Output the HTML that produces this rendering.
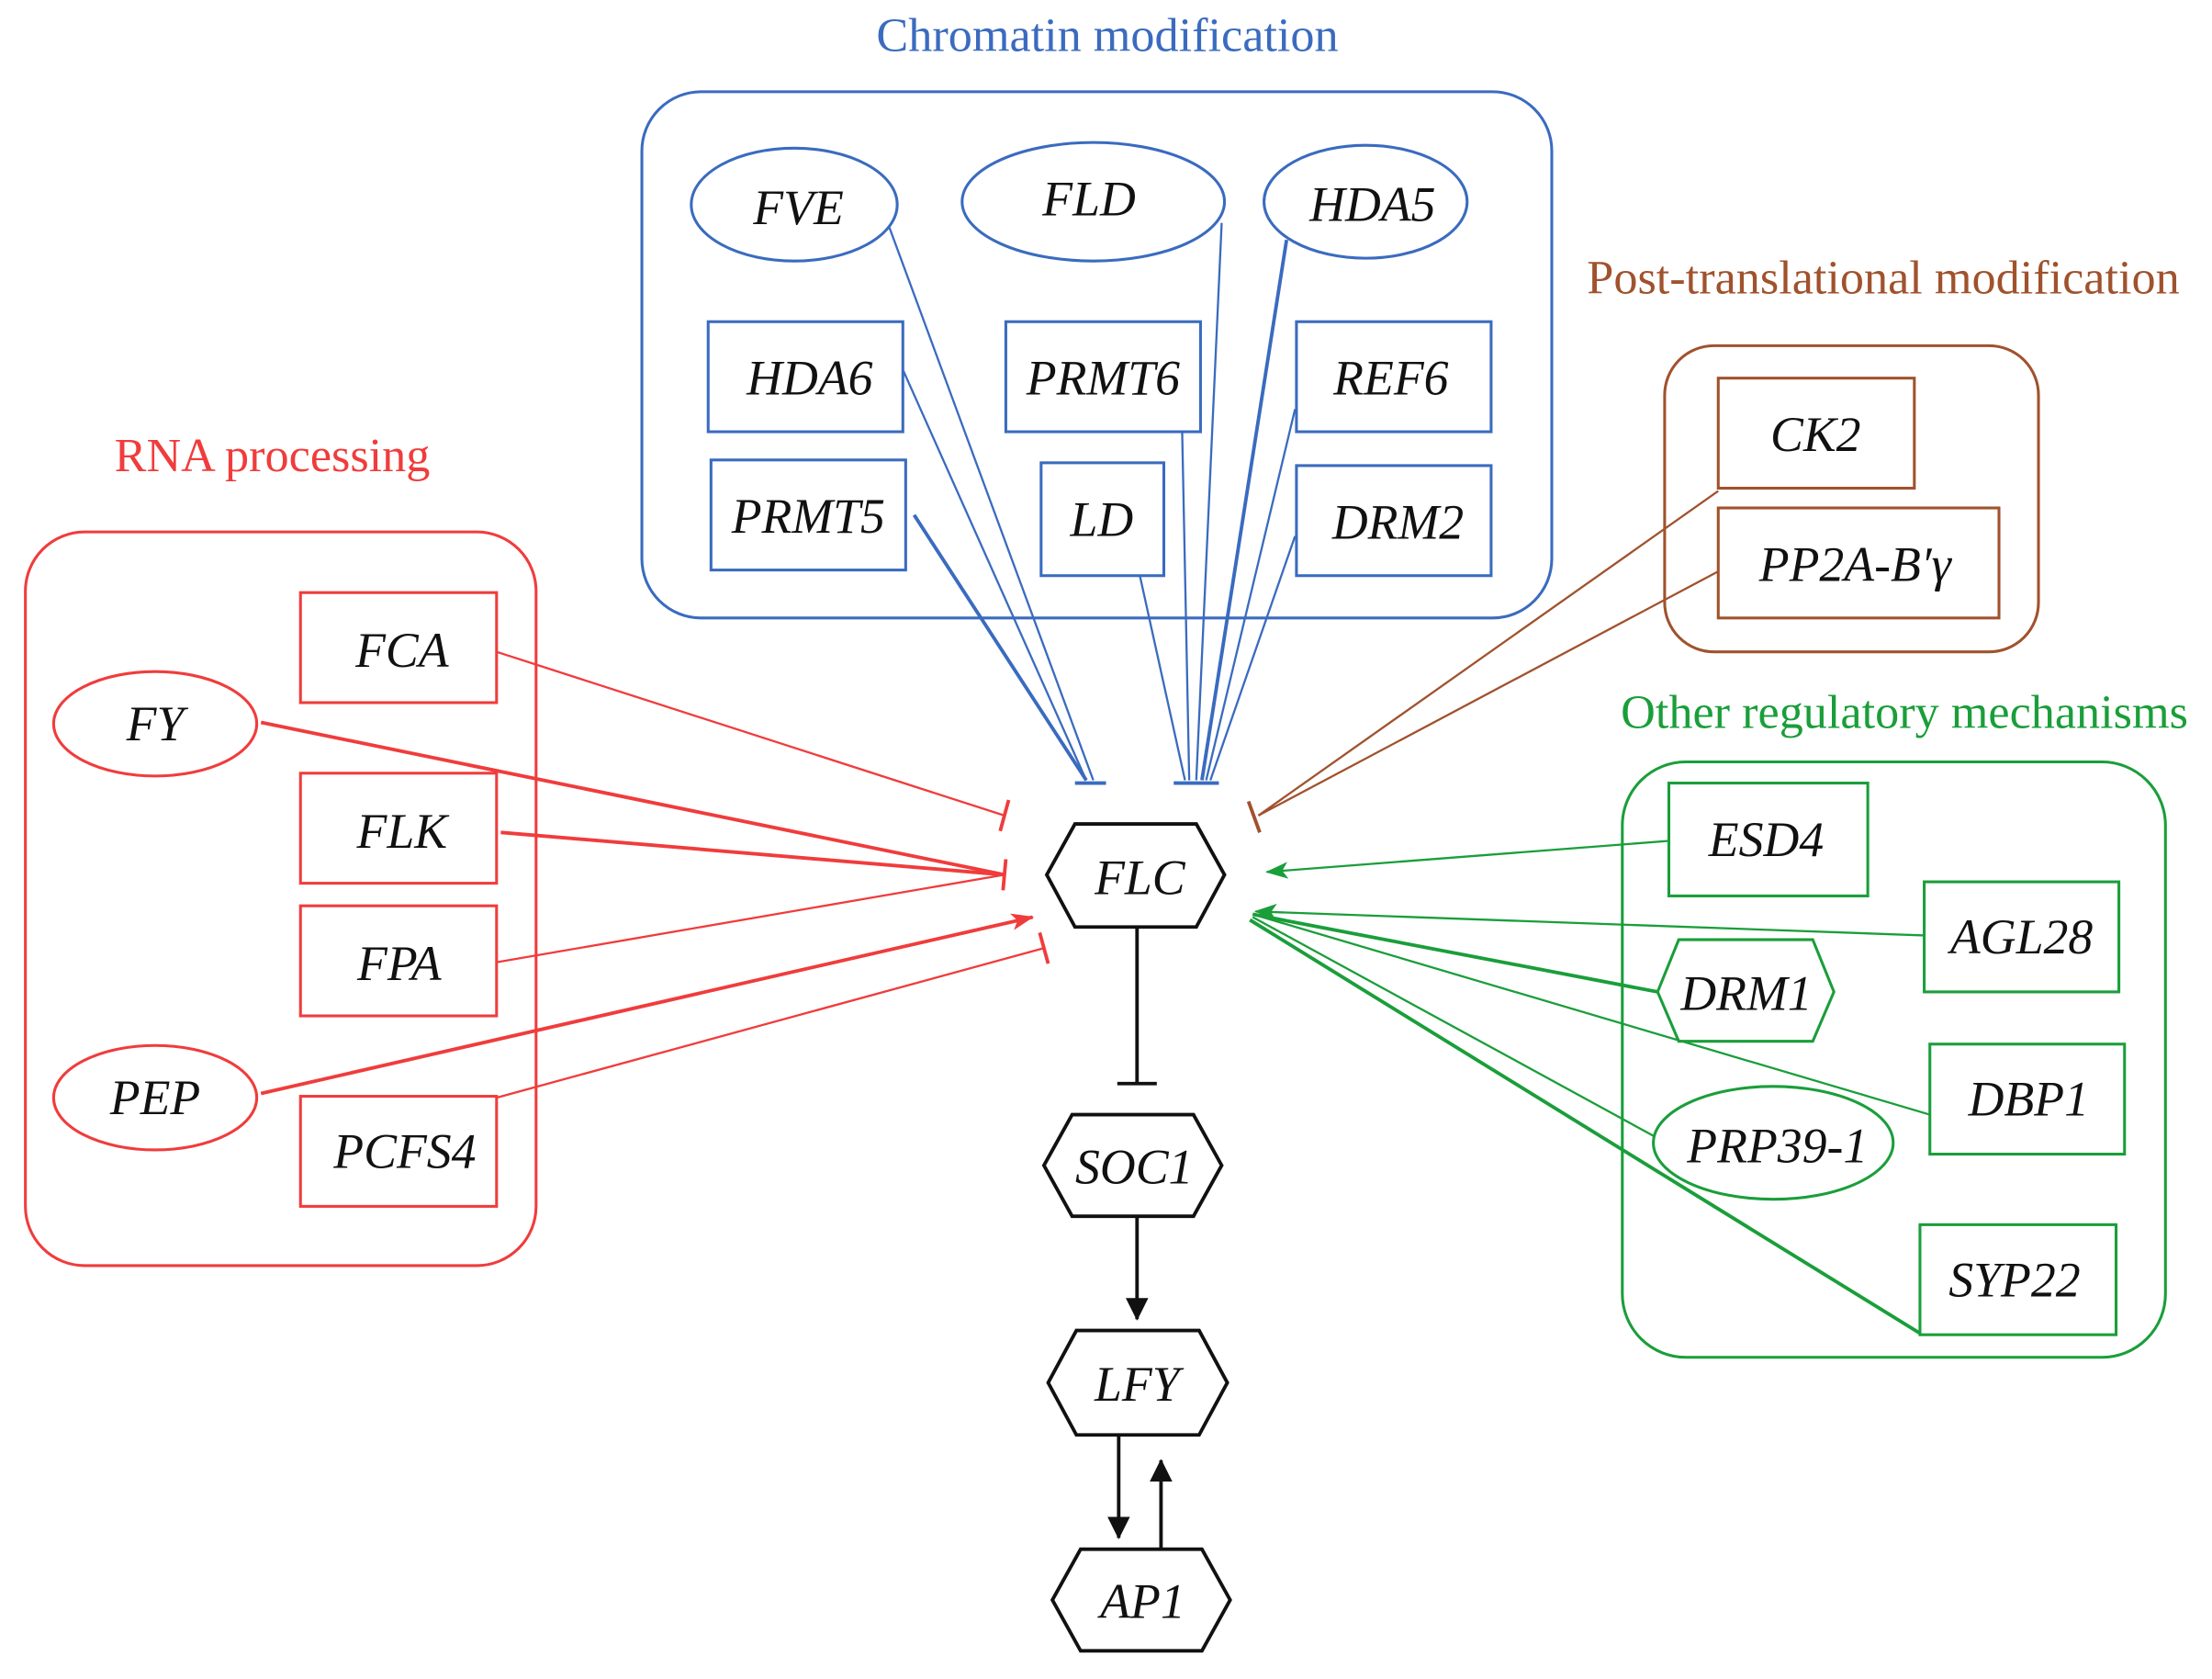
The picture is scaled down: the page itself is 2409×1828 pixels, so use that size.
<!DOCTYPE html>
<html><head><meta charset="utf-8"><style>
html,body{margin:0;padding:0;background:#fff;}
svg{display:block;}
text{font-family:"Liberation Serif",serif;}
.n{font-style:italic;font-size:35px;text-anchor:middle;dominant-baseline:central;fill:#111;}
.t{font-size:34px;text-anchor:middle;}
</style></head><body>
<svg width="2409" height="1828" viewBox="0 0 1568 1190" preserveAspectRatio="none" xmlns="http://www.w3.org/2000/svg">
<defs>
<marker id="ar" markerWidth="16" markerHeight="12" refX="15" refY="6" orient="auto" markerUnits="userSpaceOnUse"><path d="M0,0 L16,6 L0,12 L4,6 z" fill="#f03c3c"/></marker>
<marker id="ag" markerWidth="16" markerHeight="12" refX="15" refY="6" orient="auto" markerUnits="userSpaceOnUse"><path d="M0,0 L16,6 L0,12 L4,6 z" fill="#1a9e3a"/></marker>
<marker id="abig" markerWidth="16" markerHeight="22" refX="15" refY="8" orient="auto" markerUnits="userSpaceOnUse"><path d="M0,0 L16,8 L0,16 z" fill="#111"/></marker>
</defs>

<text class="t" x="785" y="36" fill="#3a6bbf">Chromatin modification</text>
<rect x="455" y="65" width="645" height="373" rx="42" fill="none" stroke="#3a6bbf" stroke-width="2"/>
<g fill="none" stroke="#3a6bbf" stroke-width="2">
<ellipse cx="563" cy="145" rx="73" ry="40"/>
<ellipse cx="775" cy="143" rx="93" ry="42"/>
<ellipse cx="968" cy="143" rx="72" ry="40"/>
<rect x="502" y="228" width="138" height="78"/>
<rect x="713" y="228" width="138" height="78"/>
<rect x="919" y="228" width="138" height="78"/>
<rect x="504" y="326" width="138" height="78"/>
<rect x="738" y="328" width="87" height="80"/>
<rect x="919" y="330" width="138" height="78"/>
</g>
<g stroke="#3a6bbf" stroke-width="1.5">
<line x1="630" y1="160" x2="775" y2="553"/>
<line x1="640" y1="262" x2="770" y2="553"/>
<line x1="648" y1="365" x2="770" y2="553" stroke-width="2.5"/>
<line x1="808" y1="408" x2="840" y2="553"/>
<line x1="838" y1="306" x2="843" y2="553"/>
<line x1="866" y1="158" x2="848" y2="553"/>
<line x1="912" y1="170" x2="852" y2="553" stroke-width="2.5"/>
<line x1="918" y1="290" x2="855" y2="553"/>
<line x1="918" y1="380" x2="858" y2="553"/>
<line x1="762" y1="555" x2="784" y2="555" stroke-width="2.5"/>
<line x1="832" y1="555" x2="864" y2="555" stroke-width="2.5"/>
</g>
<text class="n" x="566" y="147">FVE</text>
<text class="n" x="772" y="141">FLD</text>
<text class="n" x="973" y="145">HDA5</text>
<text class="n" x="574" y="268">HDA6</text>
<text class="n" x="782" y="268">PRMT6</text>
<text class="n" x="986" y="268">REF6</text>
<text class="n" x="573" y="366">PRMT5</text>
<text class="n" x="781" y="368">LD</text>
<text class="n" x="991" y="370">DRM2</text>

<text class="t" x="1335" y="208" fill="#a0522d">Post-translational modification</text>
<rect x="1180" y="245" width="265" height="217" rx="35" fill="none" stroke="#a0522d" stroke-width="2"/>
<rect x="1218" y="268" width="139" height="78" fill="none" stroke="#a0522d" stroke-width="2"/>
<rect x="1218" y="360" width="199" height="78" fill="none" stroke="#a0522d" stroke-width="2"/>
<text class="n" x="1287" y="308">CK2</text>
<text class="n" x="1315" y="400">PP2A-B′γ</text>
<g stroke="#a0522d" stroke-width="1.5">
<line x1="1218" y1="348" x2="892" y2="578"/>
<line x1="1218" y1="405" x2="892" y2="578"/>
<line x1="885" y1="568" x2="893" y2="590" stroke-width="2.5"/>
</g>

<text class="t" x="193" y="334" fill="#f03c3c">RNA processing</text>
<rect x="18" y="377" width="362" height="520" rx="42" fill="none" stroke="#f03c3c" stroke-width="2"/>
<g fill="none" stroke="#f03c3c" stroke-width="2">
<rect x="213" y="420" width="139" height="78"/>
<ellipse cx="110" cy="513" rx="72" ry="37"/>
<rect x="213" y="548" width="139" height="78"/>
<rect x="213" y="642" width="139" height="78"/>
<ellipse cx="110" cy="778" rx="72" ry="37"/>
<rect x="213" y="777" width="139" height="78"/>
</g>
<text class="n" x="285" y="461">FCA</text>
<text class="n" x="110" y="513">FY</text>
<text class="n" x="285" y="589">FLK</text>
<text class="n" x="283" y="683">FPA</text>
<text class="n" x="110" y="778">PEP</text>
<text class="n" x="287" y="816">PCFS4</text>
<g stroke="#f03c3c" stroke-width="1.5">
<line x1="352" y1="462" x2="712" y2="578"/>
<line x1="185" y1="512" x2="712" y2="620" stroke-width="2.5"/>
<line x1="355" y1="590" x2="712" y2="620" stroke-width="2.5"/>
<line x1="352" y1="682" x2="712" y2="620"/>
<line x1="185" y1="775" x2="732" y2="650" stroke-width="2.5" marker-end="url(#ar)"/>
<line x1="352" y1="778" x2="740" y2="672"/>
<line x1="715" y1="567" x2="709" y2="589" stroke-width="2.5"/>
<line x1="713" y1="609" x2="711" y2="631" stroke-width="2.5"/>
<line x1="737" y1="661" x2="743" y2="683" stroke-width="2.5"/>
</g>

<g fill="none" stroke="#111" stroke-width="2.5">
<polygon points="742,620 762,584 848,584 868,620 848,657 762,657"/>
<polygon points="740,826 760,790 846,790 866,826 846,862 760,862"/>
<polygon points="743,980 763,943 850,943 870,980 850,1017 763,1017"/>
<polygon points="746,1134 766,1098 852,1098 872,1134 852,1170 766,1170"/>
</g>
<text class="n" x="808" y="622">FLC</text>
<text class="n" x="804" y="827">SOC1</text>
<text class="n" x="806" y="981">LFY</text>
<text class="n" x="810" y="1135">AP1</text>
<g stroke="#111" stroke-width="2.5">
<line x1="806" y1="657" x2="806" y2="768"/>
<line x1="792" y1="768" x2="820" y2="768"/>
<line x1="806" y1="862" x2="806" y2="935" marker-end="url(#abig)"/>
<line x1="793" y1="1017" x2="793" y2="1090" marker-end="url(#abig)"/>
<line x1="823" y1="1097" x2="823" y2="1035" marker-end="url(#abig)"/>
</g>

<text class="t" x="1350" y="516" fill="#1a9e3a">Other regulatory mechanisms</text>
<rect x="1150" y="540" width="385" height="422" rx="45" fill="none" stroke="#1a9e3a" stroke-width="2"/>
<g fill="none" stroke="#1a9e3a" stroke-width="2">
<rect x="1183" y="555" width="141" height="80"/>
<rect x="1364" y="625" width="138" height="78"/>
<polygon points="1175,703 1190,666 1285,666 1300,703 1285,738 1190,738"/>
<rect x="1368" y="740" width="138" height="78"/>
<ellipse cx="1257" cy="810" rx="85" ry="40"/>
<rect x="1361" y="868" width="139" height="78"/>
</g>
<text class="n" x="1252" y="595">ESD4</text>
<text class="n" x="1433" y="664">AGL28</text>
<text class="n" x="1238" y="704">DRM1</text>
<text class="n" x="1438" y="779">DBP1</text>
<text class="n" x="1260" y="812">PRP39-1</text>
<text class="n" x="1428" y="907">SYP22</text>
<g stroke="#1a9e3a" stroke-width="1.5">
<line x1="1183" y1="596" x2="898" y2="618" marker-end="url(#ag)"/>
<line x1="1364" y1="663" x2="890" y2="646" marker-end="url(#ag)"/>
<line x1="1175" y1="703" x2="888" y2="648" stroke-width="2.5"/>
<line x1="1368" y1="790" x2="888" y2="648"/>
<line x1="1172" y1="805" x2="888" y2="650"/>
<line x1="1361" y1="945" x2="886" y2="652" stroke-width="2.5"/>
</g>
</svg>
</body></html>
